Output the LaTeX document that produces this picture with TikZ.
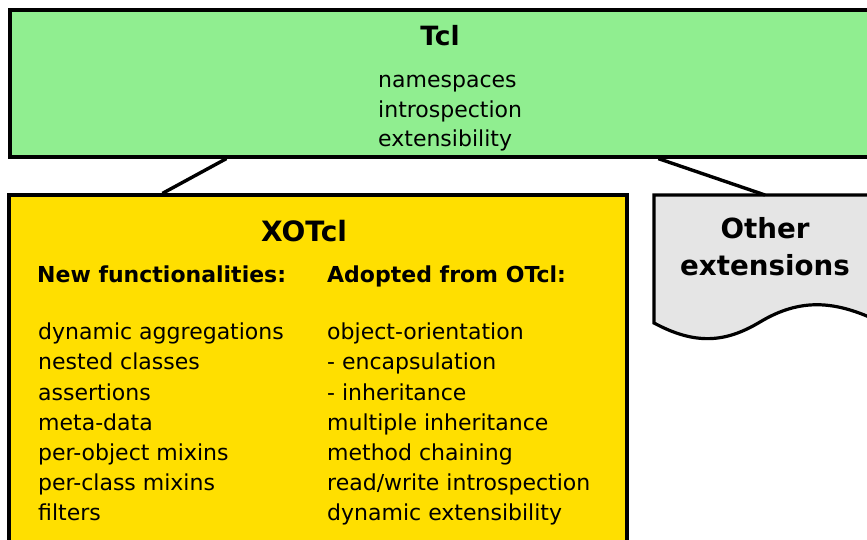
\documentclass[tikz,border=0pt]{standalone}
\usepackage{fontspec}
\setmainfont{DejaVu Sans}
\usetikzlibrary{calc}
\definecolor{tclgreen}{HTML}{90EE90}
\definecolor{xogold}{HTML}{FFDF00}
\definecolor{othergray}{HTML}{E5E5E5}
\begin{document}
\begin{tikzpicture}[x=1pt,y=-1pt,
  box/.style={draw=black, line width=3.2pt, inner sep=0},
  titletext/.style={font=\fontsize{#1}{#1}\selectfont\bfseries, anchor=base, inner sep=0},
  bodytext/.style={font=\fontsize{22}{30}\selectfont, anchor=base west, inner sep=0},
  headtext/.style={font=\fontsize{22}{30}\selectfont\bfseries, anchor=base west, inner sep=0},
  link/.style={line width=3.4pt}]
\useasboundingbox (0,0) rectangle (867,540);
\clip (0,0) rectangle (867,540);
% boxes
\node[box, fill=tclgreen, minimum width=870pt, minimum height=147pt] (tcl) at (445,83.5) {};
\node[box, fill=xogold, minimum width=618pt, minimum height=370pt] (xotcl) at (318,380) {};
\node[minimum width=240pt, minimum height=10pt, anchor=north west, inner sep=0] (other) at (654,195) {};
\draw[line width=3.2pt, fill=othergray] (other.north west) -- (other.north east) -- ++(0,130)
  -- (880,322) .. controls (835,300) and (800,298) .. (760,322)
  .. controls (725,343) and (695,345) .. (654,323) -- cycle;
% connectors
\draw[link] ([xshift=218pt]tcl.south west) -- ([xshift=155pt]xotcl.north west);
\draw[link] ([xshift=650pt]tcl.south west) -- ([xshift=111pt]other.north west);
% Tcl text
\node[titletext=26.5] (tcltitle) at (440,45.3) {Tcl};
\node[bodytext] (t1) at (378,88) {namespaces};
\node[bodytext] (t2) at (378,117.5) {introspection};
\node[bodytext] (t3) at (378,147) {extensibility};
% XOTcl text
\node[titletext=28] (xotitle) at (304,241) {XOTcl};
\node[headtext] (h1) at (37,282) {New functionalities:};
\node[headtext] (h2) at (327,282) {Adopted from OTcl:};
\foreach \t [count=\i] in {dynamic aggregations, nested classes, assertions, meta-data, per-object mixins, per-class mixins, filters}
  \node[bodytext] (l\i) at (38,309.5+30.2*\i) {\t};
\foreach \t [count=\i] in {object-orientation, - encapsulation, - inheritance, multiple inheritance, method chaining, read/write introspection, dynamic extensibility}
  \node[bodytext] (r\i) at (327,309.5+30.2*\i) {\t};
% Other text
\node[titletext=27.7] (o1) at (765,238.7) {Other};
\node[titletext=27.7] (o2) at (765,275) {extensions};
\end{tikzpicture}
\end{document}
